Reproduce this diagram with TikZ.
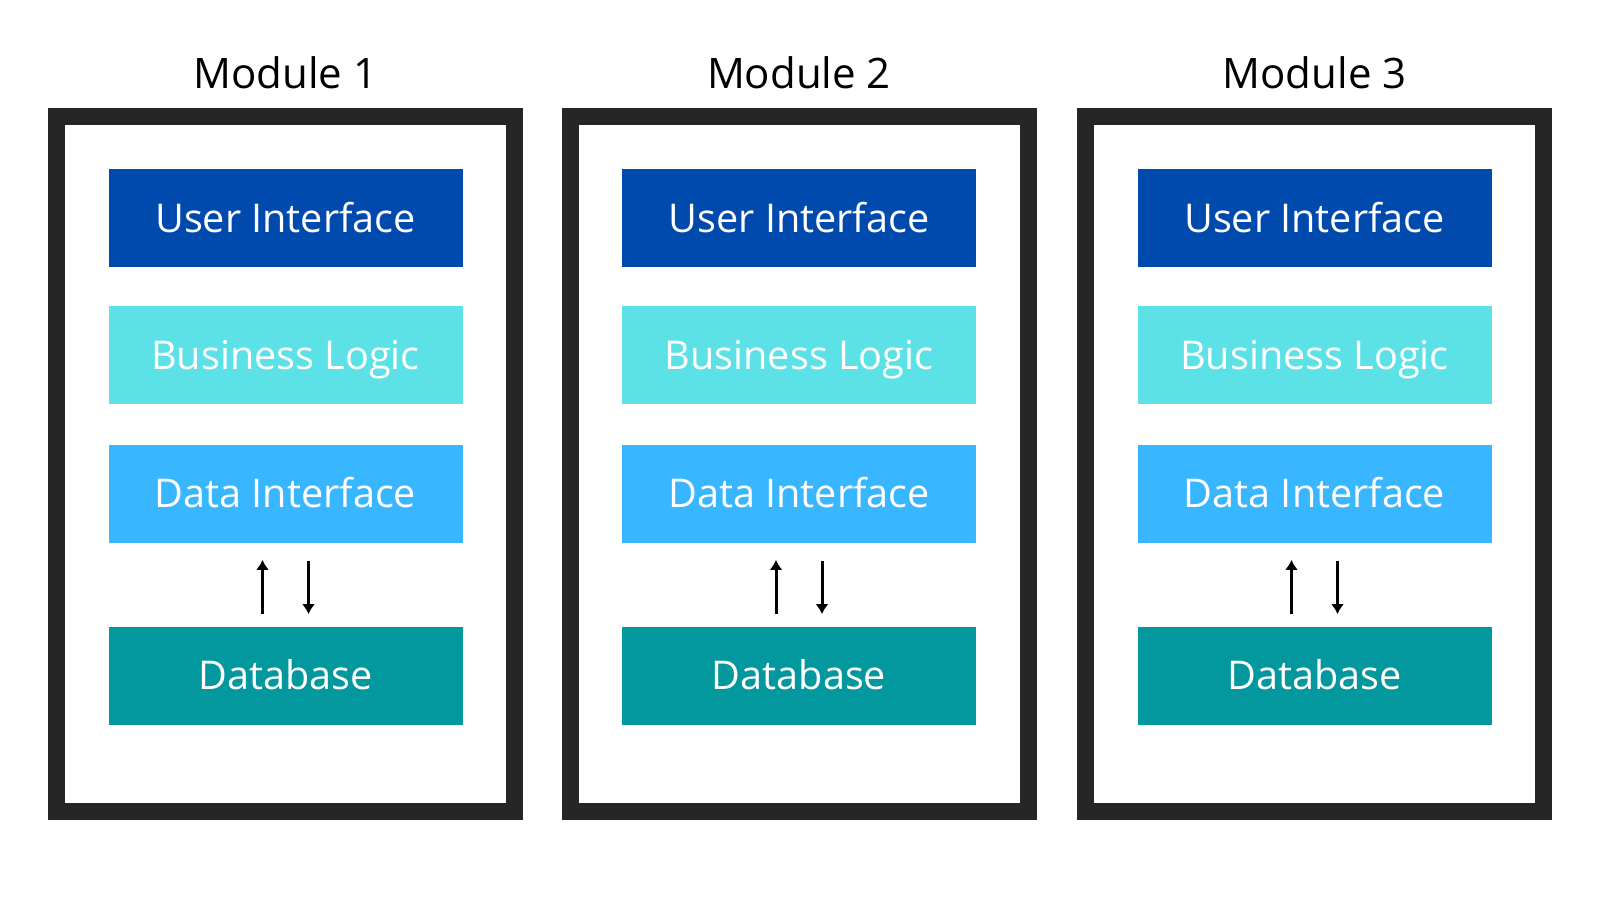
\documentclass[tikz,border=0pt]{standalone}
\usepackage{fontspec}
\setmainfont{Open Sans}
\usetikzlibrary{arrows.meta}

\definecolor{uiBlue}   {HTML}{004AAD}
\definecolor{logicCyan}{HTML}{5CE1E6}
\definecolor{dataBlue} {HTML}{38B6FF}
\definecolor{dbTeal}   {HTML}{03989E}
\definecolor{frameGray}{HTML}{262626}

\begin{document}
\begin{tikzpicture}[x=0.5pt, y=-0.5pt,
    layer/.style={minimum width=177pt, minimum height=49pt, inner sep=0pt,
      text=white, font=\fontsize{19.8}{24}\selectfont,
      text height=14.1pt, text depth=0pt},
    title/.style={anchor=base, font=\fontsize{21}{25}\selectfont},
    flow/.style={-{Latex[length=5pt, width=6.5pt]}, line width=1.5pt}]
    \useasboundingbox[fill=white](0,0) rectangle (1600,900);
    \foreach \m/\cx in {1/285.5, 2/799, 3/1314.5}{%
      \draw[line width=8.5pt, frameGray](\cx-229,116.5) rectangle (\cx+229,811);
      \node[title] (title\m) at (\cx,88){Module \m};
      \node[layer, fill=uiBlue]    (ui\m) at (\cx,218){User Interface};
      \node[layer, fill=logicCyan] (bl\m) at (\cx,355){Business Logic};
      \node[layer, fill=dataBlue]  (di\m) at (\cx,493.5){Data Interface};
      \node[layer, fill=dbTeal]    (db\m) at (\cx,675.5){Database};
      \draw[flow, shorten <=6pt, shorten >=8.5pt]
        ([xshift=-11.5pt]db\m.north) -- ([xshift=-11.5pt]di\m.south);
      \draw[flow, shorten <=9pt, shorten >=6pt]
        ([xshift=11.5pt]di\m.south) -- ([xshift=11.5pt]db\m.north);}
  \end{tikzpicture}
\end{document}
